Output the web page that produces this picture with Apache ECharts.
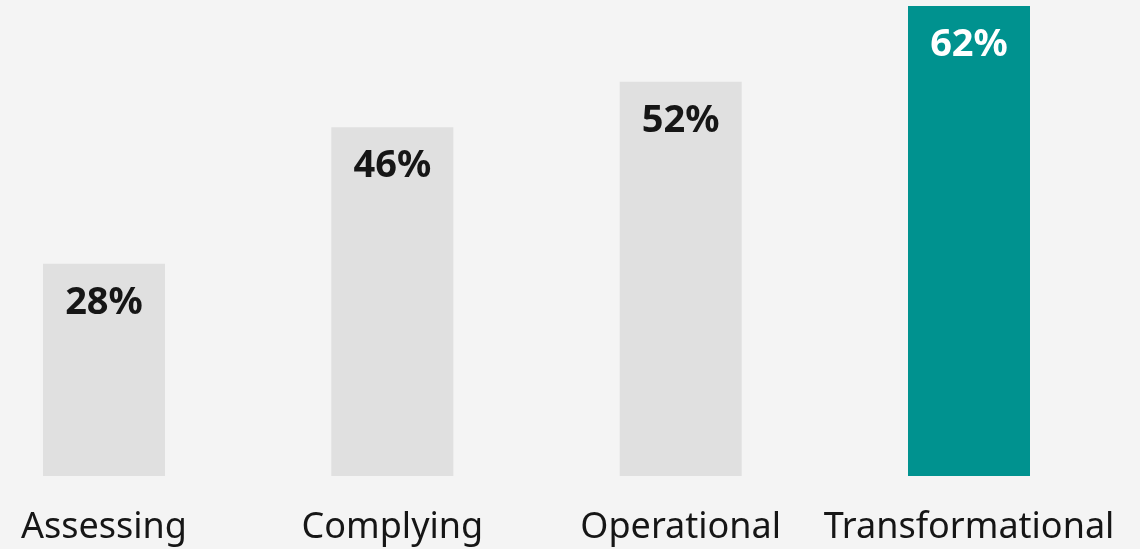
<!DOCTYPE html>
<html><head><meta charset="utf-8">
<style>html,body{margin:0;padding:0;background:#f4f4f4;}#c{width:1140px;height:549px;}</style>
<script src="https://cdn.jsdelivr.net/npm/echarts@6/dist/echarts.min.js"></script>
</head><body><div id="c"></div>
<script>
const categories = ["Assessing", "Complying", "Operational", "Transformational"];
const values = [28, 46, 52, 62];
const highlightIndex = 3;

const chart = echarts.init(document.getElementById('c'), null, {renderer: 'canvas'});
chart.setOption({
  backgroundColor: '#f4f4f4',
  animation: false,
  grid: {left: 104, right: 171, top: 6, bottom: 73, containLabel: false, outerBoundsMode: 'none'},
  xAxis: {
    type: 'category', data: categories, boundaryGap: false,
    axisLine: {show: false}, axisTick: {show: false}, splitLine: {show: false},
    axisLabel: {color: '#161616', fontSize: 36, fontFamily: 'Noto Sans', margin: 34, interval: 0}
  },
  yAxis: {type: 'value', min: 0, max: 62, show: false, splitLine: {show: false}},
  series: [{
    type: 'bar', barWidth: 122,
    data: values.map((v, i) => ({
      value: v,
      itemStyle: {color: i === highlightIndex ? '#00928f' : '#e0e0e0'},
      label: {color: i === highlightIndex ? '#ffffff' : '#161616'}
    })),
    label: {show: true, position: 'insideTop', distance: 20, formatter: '{c}%', fontSize: 38, fontWeight: 'bold', fontFamily: 'Noto Sans'}
  }]
});
</script></body></html>
